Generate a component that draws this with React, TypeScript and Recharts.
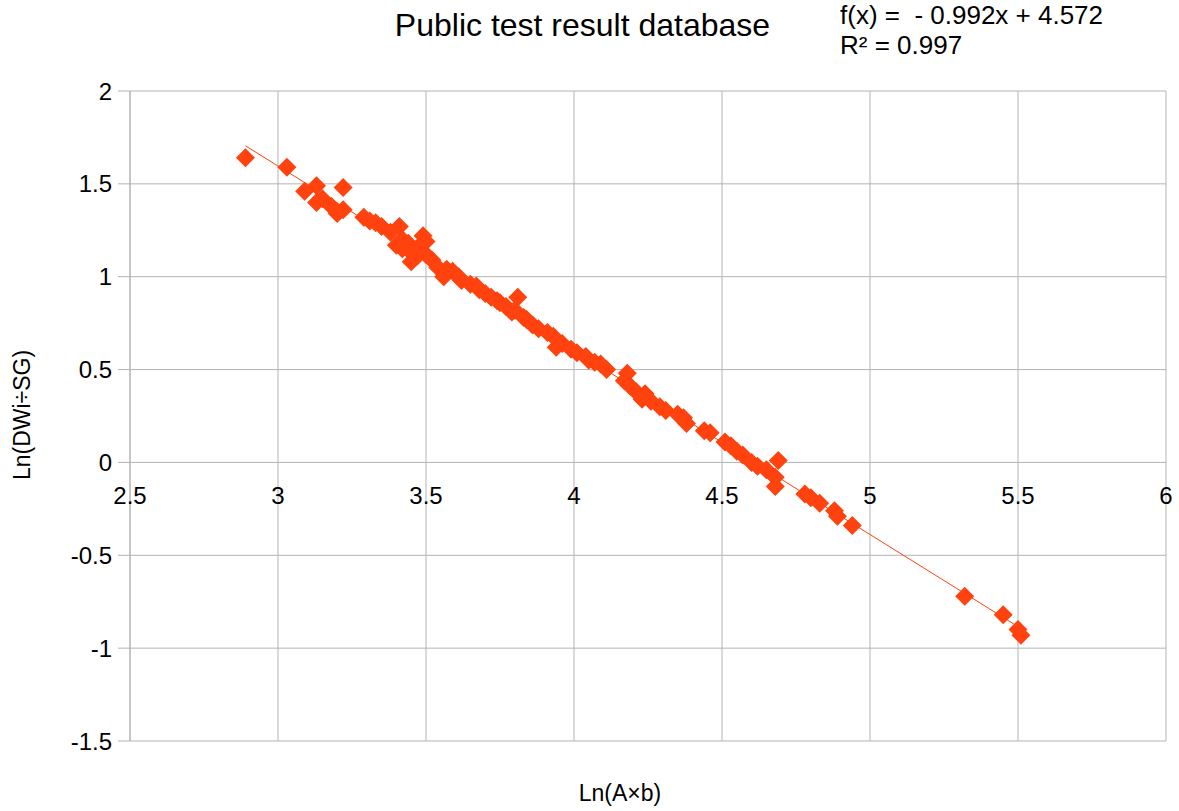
import React from 'react';
import { ScatterChart, Scatter, XAxis, YAxis, CartesianGrid, ReferenceLine } from 'recharts';

// Ln(A×b)
const xValues = [
  2.89, 3.03, 3.09, 3.13, 3.13, 3.15, 3.18, 3.2, 3.22, 3.22,
  3.29, 3.31, 3.33, 3.35, 3.38, 3.4, 3.41, 3.42, 3.42, 3.44,
  3.45, 3.45, 3.47, 3.48, 3.49, 3.5, 3.5, 3.52, 3.54, 3.56,
  3.57, 3.59, 3.61, 3.62, 3.65, 3.67, 3.68, 3.7, 3.72, 3.74,
  3.75, 3.77, 3.79, 3.81, 3.8, 3.83, 3.84, 3.86, 3.88, 3.91,
  3.93, 3.94, 3.96, 3.99, 4.01, 4.04, 4.05, 4.07, 4.09, 4.11,
  4.17, 4.18, 4.19, 4.21, 4.23, 4.24, 4.26, 4.29, 4.31, 4.35,
  4.37, 4.38, 4.44, 4.46, 4.51, 4.53, 4.55, 4.57, 4.6, 4.62,
  4.65, 4.69, 4.68, 4.68, 4.78, 4.8, 4.83, 4.88, 4.89, 4.94,
  5.32, 5.45, 5.5, 5.51,
];

// Ln(DWi÷SG)
const yValues = [
  1.64, 1.59, 1.46, 1.49, 1.4, 1.42, 1.38, 1.34, 1.36, 1.48,
  1.32, 1.3, 1.29, 1.27, 1.24, 1.17, 1.27, 1.2, 1.15, 1.18,
  1.13, 1.08, 1.11, 1.17, 1.22, 1.19, 1.12, 1.09, 1.05, 1.0,
  1.04, 1.03, 1.0, 0.98, 0.96, 0.95, 0.93, 0.91, 0.89, 0.87,
  0.86, 0.84, 0.81, 0.89, 0.82, 0.78, 0.77, 0.74, 0.72, 0.7,
  0.68, 0.62, 0.64, 0.61, 0.59, 0.57, 0.55, 0.54, 0.53, 0.5,
  0.44, 0.48, 0.41, 0.38, 0.34, 0.37, 0.33, 0.3, 0.28, 0.26,
  0.24, 0.21, 0.17, 0.16, 0.11, 0.09, 0.06, 0.04, 0.0, -0.02,
  -0.04, 0.01, -0.08, -0.13, -0.17, -0.19, -0.22, -0.26, -0.29, -0.34,
  -0.72, -0.82, -0.9, -0.93,
];

const xTicks = [2.5, 3, 3.5, 4, 4.5, 5, 5.5, 6];
const yTicks = [2, 1.5, 1, 0.5, 0, -0.5, -1, -1.5];

const trendSlope = -0.992;
const trendIntercept = 4.572;

const points = xValues.map((x, i) => ({ x, y: yValues[i] }));
const xMin = Math.min(...xValues);
const xMax = Math.max(...xValues);

const W = 1179;
const H = 811;
const TOP = 91;
const BOTTOM_AXIS = 70;
const LEFT_AXIS = 130;
const PLOT_H = H - TOP - BOTTOM_AXIS;
const zeroY = TOP + (PLOT_H * (2 - 0)) / 3.5;

const COLOR = '#ff420e';
const GRID = '#b3b3b3';
const FONT = '"Liberation Sans", Arial, sans-serif';

const Diamond = (props: any) => {
  const { cx, cy } = props;
  if (cx == null || cy == null) return null;
  const r = 9.5;
  return <polygon points={`${cx},${cy - r} ${cx + r},${cy} ${cx},${cy + r} ${cx - r},${cy}`} fill={COLOR} />;
};

const XTick = (props: any) => {
  const { x, payload } = props;
  return (
    <text x={x} y={zeroY + 42} textAnchor="middle" fontSize={24} fill="#000" fontFamily={FONT}>
      {payload.value}
    </text>
  );
};

const App: React.FC = () => {
  return (
    <div style={{ position: 'absolute', left: 0, top: 0, width: W, height: H, background: '#fff', fontFamily: FONT }}>
      <ScatterChart width={W} height={H} margin={{ top: TOP, right: 13, bottom: 0, left: 0 }}>
        <CartesianGrid stroke={GRID} strokeWidth={1} />
        <XAxis
          type="number"
          dataKey="x"
          domain={[2.5, 6]}
          ticks={xTicks}
          height={BOTTOM_AXIS}
          axisLine={false}
          tickLine={false}
          tick={<XTick />}
          interval={0}
        />
        <YAxis
          type="number"
          dataKey="y"
          domain={[-1.5, 2]}
          ticks={yTicks}
          width={LEFT_AXIS}
          axisLine={{ stroke: GRID }}
          tickLine={{ stroke: GRID }}
          tickSize={12}
          tickMargin={6}
          tick={{ fontSize: 24, fill: '#000', fontFamily: FONT }}
          interval={0}
        />
        <ReferenceLine
          segment={[
            { x: xMin, y: trendSlope * xMin + trendIntercept },
            { x: xMax, y: trendSlope * xMax + trendIntercept },
          ]}
          stroke={COLOR}
          strokeWidth={1}
          ifOverflow="extendDomain"
        />
        <Scatter data={points} shape={<Diamond />} isAnimationActive={false} />
      </ScatterChart>

      <div style={{ position: 'absolute', left: 0, width: 1165, top: 7, textAlign: 'center', fontSize: 32, color: '#000', pointerEvents: 'none' }}>
        Public test result database
      </div>
      <div style={{ position: 'absolute', left: 840, top: 0, fontSize: 26, lineHeight: '30px', color: '#000', whiteSpace: 'pre' }}>
        {'f(x) =  - 0.992x + 4.572'}
        <br />
        {'R² = 0.997'}
      </div>
      <div style={{ position: 'absolute', left: 520, width: 200, top: 780, textAlign: 'center', fontSize: 23, color: '#000' }}>
        Ln(A×b)
      </div>
      <div
        style={{
          position: 'absolute',
          left: 22,
          top: 415,
          fontSize: 23,
          color: '#000',
          whiteSpace: 'nowrap',
          transform: 'translate(-50%, -50%) rotate(-90deg)',
        }}
      >
        Ln(DWi÷SG)
      </div>
    </div>
  );
};

export default App;
